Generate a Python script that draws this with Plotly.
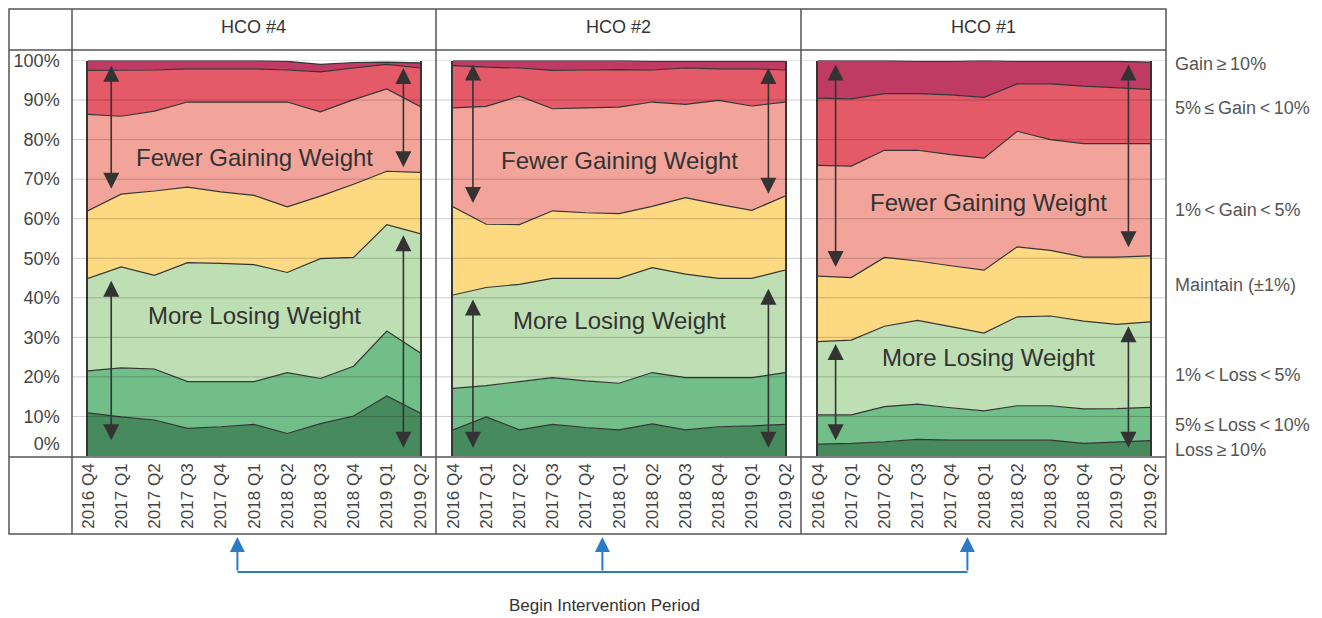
import plotly.graph_objects as go

# ---------------- data ----------------
quarters = ["2016 Q4", "2017 Q1", "2017 Q2", "2017 Q3", "2017 Q4", "2018 Q1",
            "2018 Q2", "2018 Q3", "2018 Q4", "2019 Q1", "2019 Q2"]
panel_titles = ["HCO #4", "HCO #2", "HCO #1"]
categories = ["Loss ≥ 10%", "5% ≤ Loss < 10%", "1% < Loss < 5%", "Maintain (±1%)",
              "1% < Gain < 5%", "5% ≤ Gain < 10%", "Gain ≥ 10%"]
category_labels = ["Loss\u2009≥\u200910%", "5%\u2009≤\u2009Loss\u2009<\u200910%", "1%\u2009<\u2009Loss\u2009<\u20095%",
                   "Maintain (±1%)", "1%\u2009<\u2009Gain\u2009<\u20095%", "5%\u2009≤\u2009Gain\u2009<\u200910%",
                   "Gain\u2009≥\u200910%"]
colors = ["#468a5e", "#72be88", "#bedfb3", "#fdd982", "#f2a49b", "#e45a68", "#c03b63"]

# HCO #4 (percent of patients per category)
hco4_loss10 = [10.9, 9.9, 9.1, 7.0, 7.4, 8.0, 5.7, 8.2, 10.1, 15.2, 10.9]
hco4_loss5 = [10.6, 12.4, 12.9, 11.8, 11.4, 10.8, 15.4, 11.4, 12.6, 16.4, 15.2]
hco4_loss1 = [23.4, 25.5, 23.7, 30.1, 29.9, 29.6, 25.3, 30.3, 27.5, 26.9, 30.1]
hco4_maintain = [17.1, 18.4, 21.3, 19.1, 18.1, 17.5, 16.6, 15.8, 18.5, 13.5, 15.5]
hco4_gain1 = [24.4, 19.7, 20.2, 21.5, 22.7, 23.6, 26.5, 21.3, 21.4, 20.8, 16.7]
hco4_gain5 = [11.1, 11.6, 10.4, 8.4, 8.4, 8.4, 8.1, 10.1, 8.0, 6.2, 9.7]
hco4_gain10 = [2.5, 2.5, 2.4, 2.1, 2.1, 2.1, 2.2, 1.9, 1.4, 0.6, 1.3]

# HCO #2
hco2_loss10 = [6.6, 9.9, 6.6, 8.0, 7.2, 6.6, 8.1, 6.6, 7.4, 7.6, 8.0]
hco2_loss5 = [10.5, 7.9, 12.2, 11.8, 11.8, 11.8, 13.0, 13.2, 12.4, 12.2, 13.1]
hco2_loss1 = [23.6, 24.8, 24.6, 25.1, 25.9, 26.5, 26.5, 26.2, 25.1, 25.1, 25.9]
hco2_maintain = [22.3, 16.0, 15.1, 17.1, 16.6, 16.4, 15.5, 19.3, 18.7, 17.2, 18.7]
hco2_gain1 = [25.0, 29.8, 32.5, 25.8, 26.5, 26.9, 26.4, 23.6, 26.3, 26.4, 23.8]
hco2_gain5 = [10.7, 9.9, 7.1, 9.7, 9.6, 9.5, 8.1, 9.2, 8.0, 9.4, 8.1]
hco2_gain10 = [1.3, 1.7, 1.9, 2.5, 2.4, 2.3, 2.2, 1.7, 1.9, 1.9, 2.2]

# HCO #1
hco1_loss10 = [3.0, 3.2, 3.6, 4.2, 4.0, 4.0, 4.0, 4.0, 3.2, 3.6, 3.9]
hco1_loss5 = [7.4, 7.2, 8.9, 8.9, 8.2, 7.4, 8.7, 8.7, 8.7, 8.4, 8.4]
hco1_loss1 = [18.5, 18.9, 20.3, 21.2, 20.5, 19.7, 22.5, 22.7, 22.2, 21.3, 21.6]
hco1_maintain = [16.6, 15.8, 17.4, 15.0, 15.4, 15.9, 17.7, 16.6, 16.2, 17.0, 16.7]
hco1_gain1 = [28.0, 28.2, 27.1, 28.0, 28.1, 28.3, 29.2, 28.0, 28.7, 28.7, 28.4]
hco1_gain5 = [17.0, 17.0, 14.3, 14.3, 15.1, 15.4, 12.0, 14.1, 14.5, 14.1, 13.7]
hco1_gain10 = [9.5, 9.7, 8.4, 8.2, 8.5, 9.3, 5.7, 5.7, 6.3, 6.7, 6.9]

y_ticks = [0, 10, 20, 30, 40, 50, 60, 70, 80, 90, 100]
y_tick_text = ["0%", "10%", "20%", "30%", "40%", "50%", "60%", "70%", "80%", "90%", "100%"]
intervention_index = 4.5

# annotation positions (data coords of each panel)
arrows = [
    [(0.7, 98.7, 0.7, 67.2), (0.7, 44.3, 0.7, 3.6), (9.5, 98.1, 9.5, 72.6), (9.5, 55.8, 9.5, 1.7)],
    [(0.6, 99.0, 0.6, 63.6), (0.6, 39.6, 0.6, 1.7), (9.5, 98.1, 9.5, 65.9), (9.5, 42.3, 9.5, 1.7)],
    [(0.53, 99.0, 0.53, 47.4), (0.53, 28.3, 0.53, 3.6), (9.35, 99.0, 9.35, 52.4), (9.35, 32.8, 9.35, 1.7)],
]
label_pos = [[(5.0, 75.5), (5.0, 35.4)], [(5.0, 74.7), (5.0, 34.3)], [(5.15, 64.1), (5.15, 25.0)]]

panels = [
    [hco4_loss10, hco4_loss5, hco4_loss1, hco4_maintain, hco4_gain1, hco4_gain5, hco4_gain10],
    [hco2_loss10, hco2_loss5, hco2_loss1, hco2_maintain, hco2_gain1, hco2_gain5, hco2_gain10],
    [hco1_loss10, hco1_loss5, hco1_loss1, hco1_maintain, hco1_gain1, hco1_gain5, hco1_gain10],
]

# ---------------- layout helpers ----------------
W, H = 1322, 618
OFF = 8  # page body margin in the browser
def px(x):
    return (x - OFF) / W
def py(y):
    return 1 - (y - OFF) / H

FONT = "Liberation Sans, Arial, sans-serif"
panel_edges = [72, 436, 801, 1166]
data_x = [(88, 420), (453, 785), (818, 1150)]
y_dom = [py(456), py(60.5)]

fig = go.Figure()
for i, series in enumerate(panels):
    xa = "x" if i == 0 else f"x{i+1}"
    ya = "y" if i == 0 else f"y{i+1}"
    for name, vals, col in zip(categories, series, colors):
        fig.add_trace(go.Scatter(
            x=quarters, y=vals, name=name, mode="lines", stackgroup=f"p{i}",
            line=dict(color="#353535", width=1.2), fillcolor=col,
            xaxis=xa, yaxis=ya, showlegend=False, hoverinfo="x+y+name"))

layout = dict(
    width=W, height=H, autosize=False,
    margin=dict(l=0, r=0, t=0, b=0, pad=0, autoexpand=False),
    paper_bgcolor="white", plot_bgcolor="white",
    font=dict(family=FONT, color="#444"),
    showlegend=False,
)
for i in range(3):
    sx = "" if i == 0 else str(i + 1)
    layout[f"xaxis{sx}"] = dict(
        domain=[px(data_x[i][0]), px(data_x[i][1])], range=[0, 10], anchor=f"y{sx}",
        type="category", categoryorder="array", categoryarray=quarters,
        tickangle=-90, tickfont=dict(size=17, color="#444", family=FONT),
        showgrid=False, zeroline=False, showline=False, ticks="", ticklabelstandoff=3,
        automargin=False)
    layout[f"yaxis{sx}"] = dict(
        domain=y_dom, range=[0, 100], anchor=f"x{sx}",
        showgrid=False, zeroline=False, showline=True, mirror=True,
        linecolor="#353535", linewidth=1.5, ticks="",
        showticklabels=(i == 0), automargin=False)
layout["yaxis"].update(
    tickvals=[3] + y_ticks[1:], ticktext=y_tick_text,
    tickfont=dict(size=18, color="#444", family=FONT), ticklabelstandoff=23)

fig.update_layout(**layout)

shapes = []
# gridlines across panels
for t in y_ticks[1:]:
    shapes.append(dict(type="line", xref="paper", yref="y", x0=px(72), x1=px(1166),
                       y0=t, y1=t, line=dict(color="rgba(0,0,0,0.2)", width=1), layer="above"))
frame = dict(color="#555", width=1.5)
shapes.append(dict(type="rect", xref="paper", yref="paper", x0=px(9), x1=px(1166),
                   y0=py(534), y1=py(9), line=frame))
for xe in panel_edges[:-1]:
    shapes.append(dict(type="line", xref="paper", yref="paper", x0=px(xe), x1=px(xe),
                       y0=py(534), y1=py(9), line=frame))
for ye in (50, 457):
    shapes.append(dict(type="line", xref="paper", yref="paper", x0=px(9), x1=px(1166),
                       y0=py(ye), y1=py(ye), line=frame))

# blue intervention connector
blue = "#2a7cc6"
xi = [data_x[i][0] + (data_x[i][1] - data_x[i][0]) * intervention_index / 10 for i in range(3)]
shapes.append(dict(type="line", xref="paper", yref="paper", x0=px(xi[0]), x1=px(xi[2]),
                   y0=py(572), y1=py(572), line=dict(color=blue, width=2)))

annotations = []
for i in range(3):
    sx = "" if i == 0 else str(i + 1)
    annotations.append(dict(text=panel_titles[i], xref="paper", yref="paper",
                            x=px((panel_edges[i] + panel_edges[i + 1]) / 2), y=py(27),
                            xanchor="center", yanchor="middle",
                            showarrow=False, font=dict(size=18, color="#333", family=FONT)))
    for (x0, y0, x1, y1) in arrows[i]:
        annotations.append(dict(text="", x=x0, y=y0, ax=x1, ay=y1,
                                xref=f"x{sx}", yref=f"y{sx}", axref=f"x{sx}", ayref=f"y{sx}",
                                showarrow=True, arrowhead=2, startarrowhead=2, arrowside="end+start",
                                arrowsize=2.0, startarrowsize=2.0, arrowwidth=1.6,
                                arrowcolor="#333", standoff=0, startstandoff=0))
    for txt, (lx, ly) in zip(["Fewer Gaining Weight", "More Losing Weight"], label_pos[i]):
        annotations.append(dict(text=txt, x=lx, y=ly, xref=f"x{sx}", yref=f"y{sx}",
                                xanchor="center", yanchor="middle",
                                showarrow=False, font=dict(size=24, color="#333", family=FONT)))
    annotations.append(dict(text="", x=intervention_index, y=py(537), xref=f"x{sx}", yref="paper",
                            ax=0, ay=35, showarrow=True, arrowhead=2, arrowsize=1.5,
                            arrowwidth=2, arrowcolor=blue, standoff=0))

# category labels at right
right_y = [450, 425, 375, 285, 210, 108, 64]
for lab, yy in zip(category_labels, right_y):
    annotations.append(dict(text=lab, xref="paper", yref="paper", x=px(1173), y=py(yy),
                            xanchor="left", yanchor="middle", showarrow=False,
                            font=dict(size=18, color="#555", family=FONT)))

annotations.append(dict(text="Begin Intervention Period", xref="paper", yref="paper",
                        x=px(604), y=py(605), xanchor="center", yanchor="middle", showarrow=False,
                        font=dict(size=17, color="#333", family=FONT)))

fig.update_layout(shapes=shapes, annotations=annotations)
fig.write_html("out.html", config={"responsive": False})
